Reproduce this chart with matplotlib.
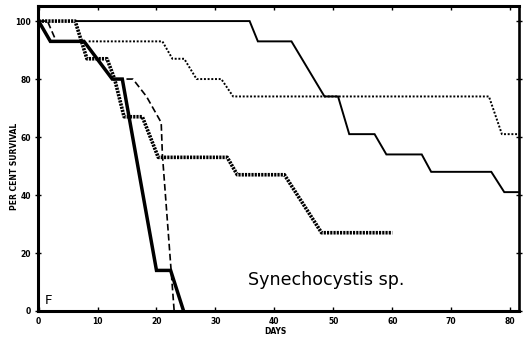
import matplotlib
matplotlib.use("Agg")
import matplotlib.pyplot as plt

# survival curves (days, per cent survival)
thick_solid_days = [0, 2, 7.7, 12.5, 14.2, 20, 22.4, 24.6]
thick_solid_surv = [100, 93, 93, 80, 80, 14, 14, 0]

dashed_days = [0, 1.5, 3, 7.7, 12.5, 14.2, 16, 18.3, 20.8, 21, 23]
dashed_surv = [100, 100, 93, 93, 80, 80, 80, 74, 65, 54, 0]

coarse_dot_days = [0, 6.2, 8.2, 11.6, 12.9, 14.5, 17.6, 20.3, 32, 33.7, 41.7, 48, 60]
coarse_dot_surv = [100, 100, 87, 87, 80, 67, 67, 53, 53, 47, 47, 27, 27]

fine_dot_days = [8.5, 21, 22.7, 24.7, 26.8, 31, 33, 76.4, 78.6, 81.5]
fine_dot_surv = [93, 93, 87, 87, 80, 80, 74, 74, 61, 61]

thin_solid_days = [6.5, 35.8, 37.2, 42.9, 48.5, 50.8, 52.7, 57, 59, 65, 66.6, 76.8, 79, 81.5]
thin_solid_surv = [100, 100, 93, 93, 74, 74, 61, 61, 54, 54, 48, 48, 41, 41]

x_ticks = [0, 10, 20, 30, 40, 50, 60, 70, 80]
y_ticks = [0, 20, 40, 60, 80, 100]


def main():
    fig = plt.figure(figsize=(5.23, 3.39), dpi=100)
    ax = fig.add_axes([38 / 523, 28 / 339, 481 / 523, 305 / 339])

    ax.plot(thin_solid_days, thin_solid_surv, color="black", linewidth=1.4,
            solid_joinstyle="miter")
    ax.plot(fine_dot_days, fine_dot_surv, color="black", linewidth=1.4,
            linestyle=(0, (1.0, 0.9)))
    ax.plot(dashed_days, dashed_surv, color="black", linewidth=1.2,
            linestyle=(0, (4, 2)))
    ax.plot(coarse_dot_days, coarse_dot_surv, color="black", linewidth=2.6,
            linestyle=(0, (0.6, 0.3)))
    ax.plot(thick_solid_days, thick_solid_surv, color="black", linewidth=2.5,
            solid_joinstyle="miter")

    ax.set_xlim(-0.1, 81.5)
    ax.set_ylim(0, 105.2)
    ax.set_xticks(x_ticks)
    ax.set_yticks(y_ticks)
    ax.set_xticklabels([str(t) for t in x_ticks], fontsize=5.5, fontweight="bold")
    ax.set_yticklabels([str(t) for t in y_ticks], fontsize=5.5, fontweight="bold")
    ax.tick_params(axis="x", direction="in", length=3, width=1, pad=4, top=True)
    ax.tick_params(axis="y", direction="inout", length=4, width=1, pad=3, right=True)

    for side in ["left", "bottom", "top"]:
        ax.spines[side].set_linewidth(2.2)
    ax.spines["right"].set_linewidth(1.9)

    fig.text(15 / 523, 1 - 166 / 339, "PER CENT SURVIVAL", rotation=90,
             ha="center", va="center", fontsize=5.5, fontweight="bold")
    fig.text(275 / 523, 1 - 331 / 339, "DAYS", ha="center", va="center",
             fontsize=5.5, fontweight="bold")

    fig.text(248 / 523, 1 - 280 / 339, "Synechocystis sp.", ha="left", va="center",
             fontsize=12.6)
    fig.text(48 / 523, 1 - 300 / 339, "F", ha="center", va="center", fontsize=9.5)

    fig.savefig("out.png", dpi=100)
    plt.close(fig)


if __name__ == "__main__":
    main()
